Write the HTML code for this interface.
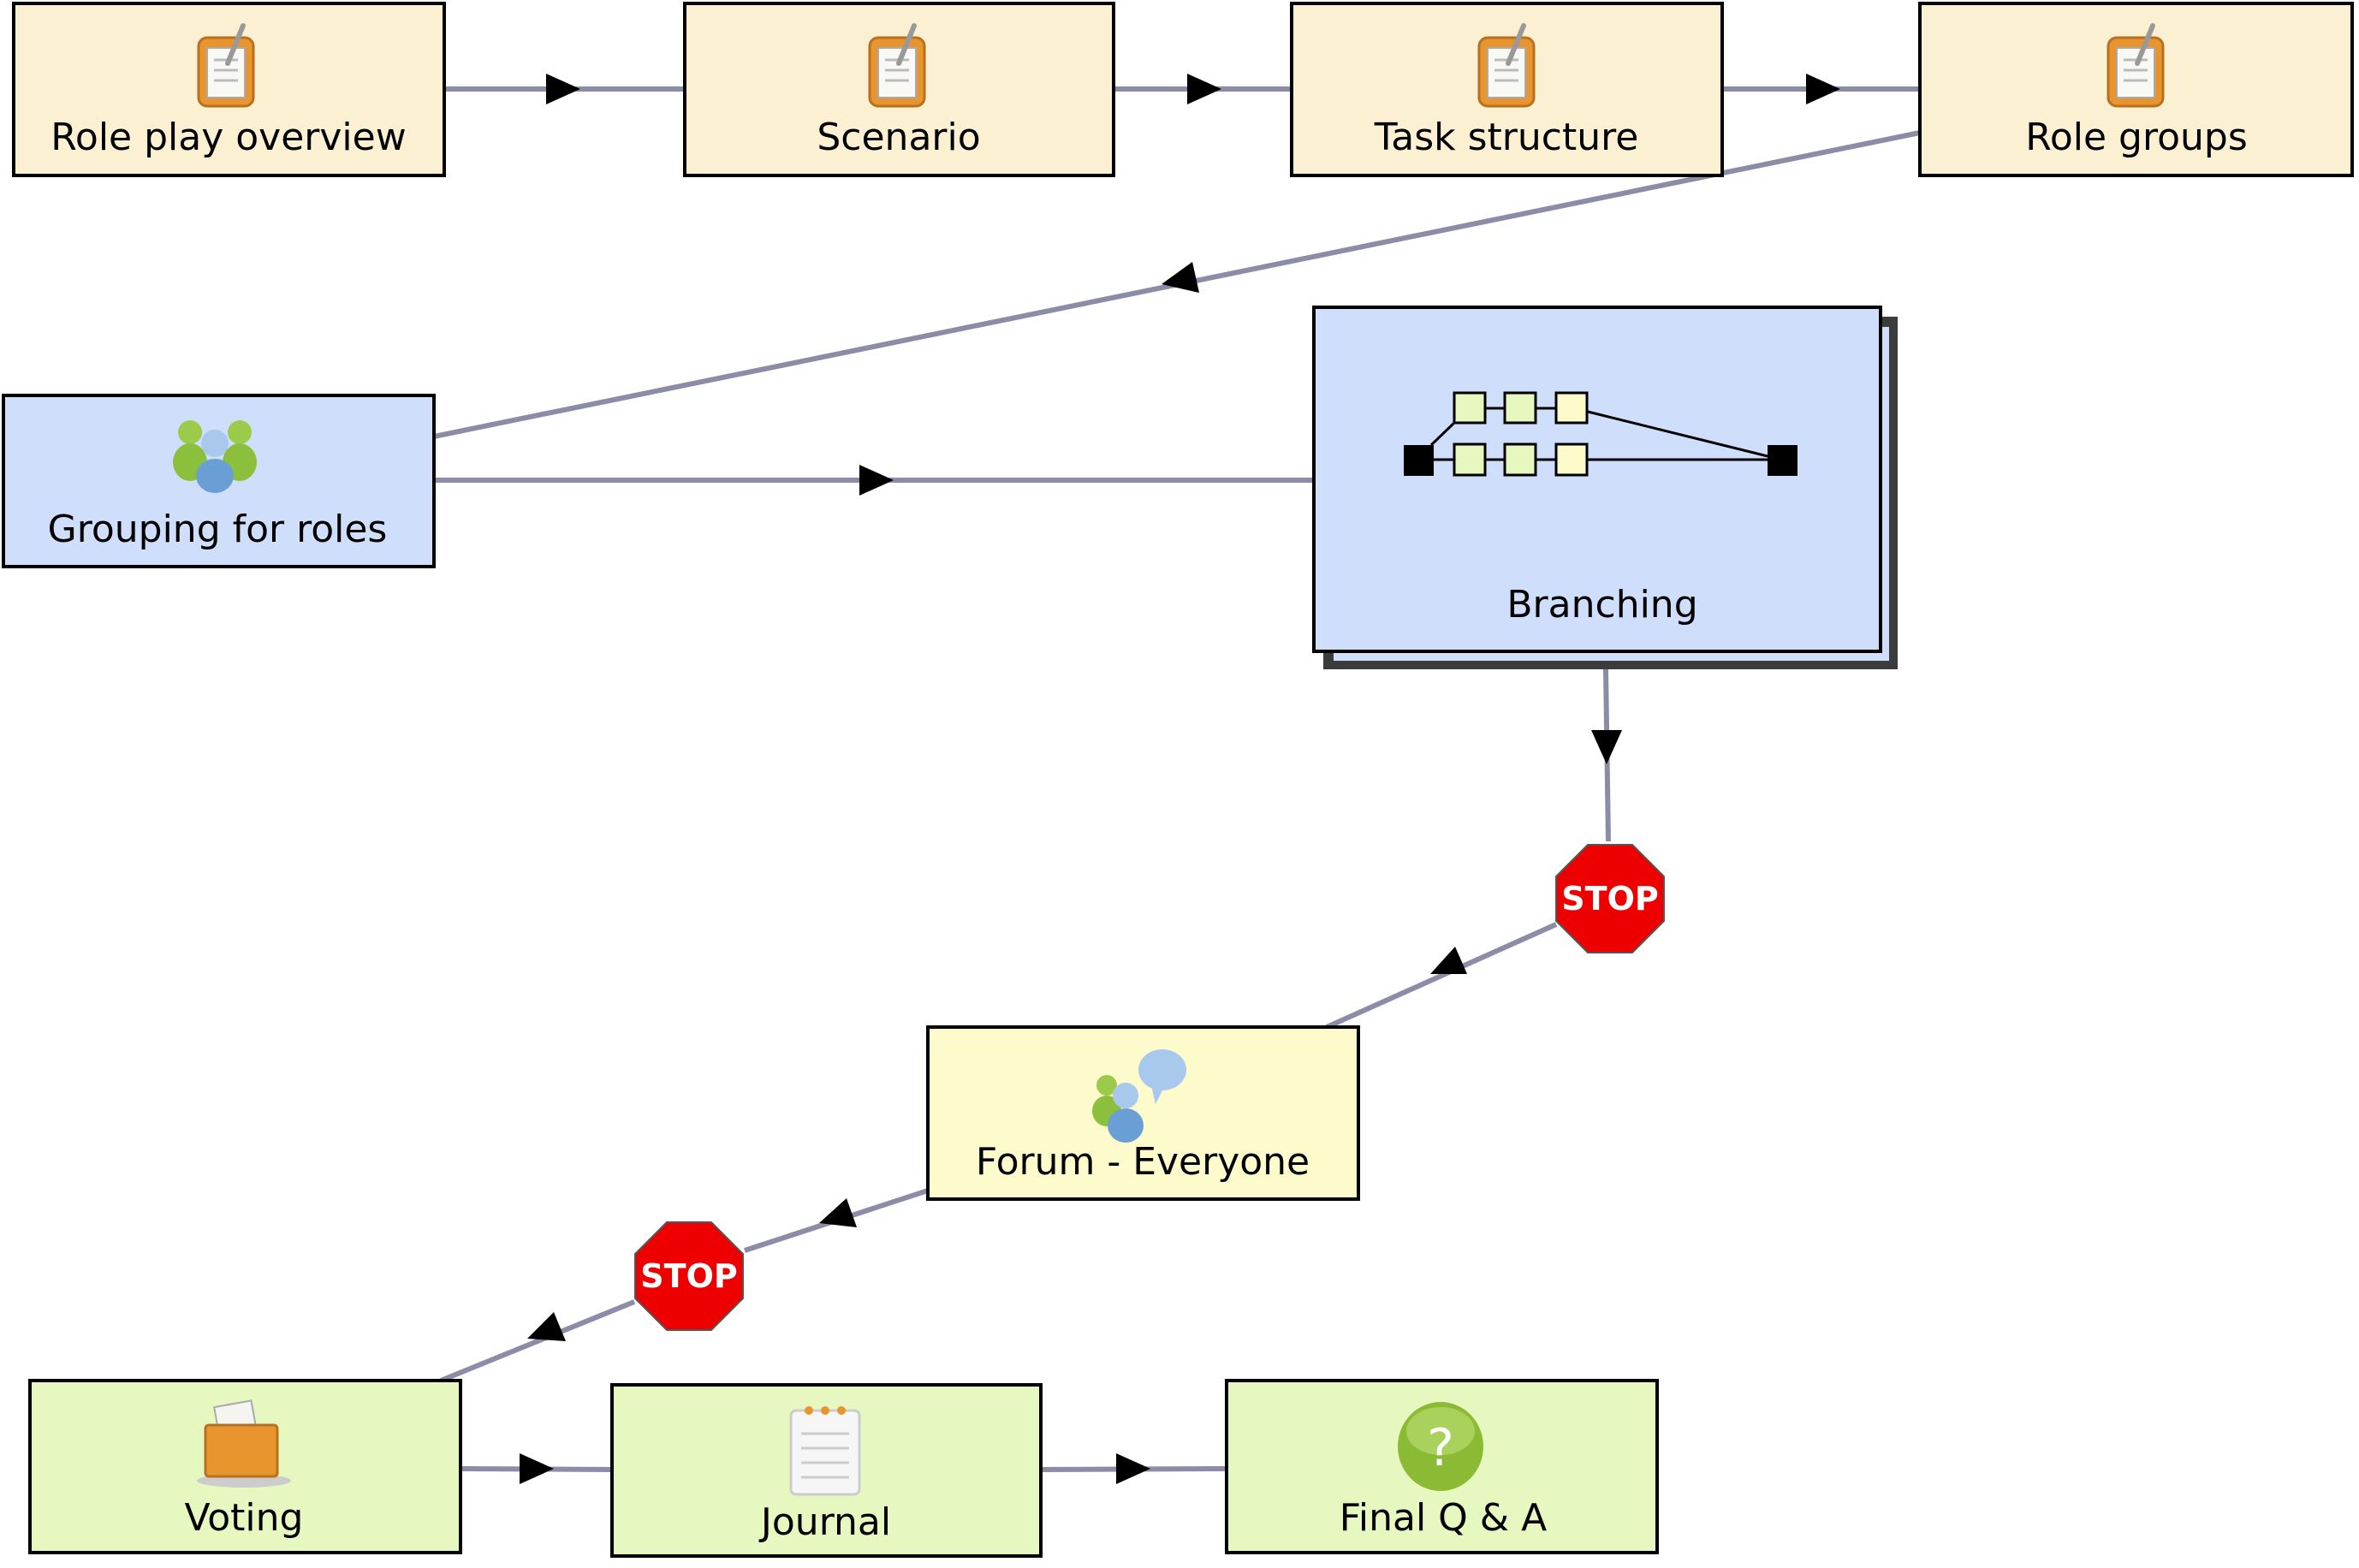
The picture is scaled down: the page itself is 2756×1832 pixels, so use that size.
<!DOCTYPE html>
<html><head><meta charset="utf-8"><style>
html,body{margin:0;padding:0;background:#fff;width:2756px;height:1832px;overflow:hidden}
text{font-family:"DejaVu Sans","Liberation Sans",sans-serif;font-size:44px;fill:#000}
</style></head><body>
<svg width="2756" height="1832" viewBox="0 0 2756 1832" xmlns="http://www.w3.org/2000/svg">
<defs>
<g id="clip">
<rect x="-32" y="-38" width="64" height="80" rx="10" fill="#e8952f" stroke="#b8701e" stroke-width="3"/>
<rect x="-22" y="-26" width="44" height="58" fill="#f8f8f4" stroke="#aaa" stroke-width="2"/>
<line x1="-14" y1="-12" x2="14" y2="-12" stroke="#bbb" stroke-width="3"/>
<line x1="-14" y1="0" x2="14" y2="0" stroke="#bbb" stroke-width="3"/>
<line x1="-14" y1="12" x2="14" y2="12" stroke="#bbb" stroke-width="3"/>
<line x1="2" y1="-8" x2="20" y2="-52" stroke="#999" stroke-width="6" stroke-linecap="round"/>
</g>
</defs>
<g stroke="#8c8ca8" stroke-width="6" fill="none">
<line x1="519" y1="104" x2="800" y2="104"/>
<line x1="1301" y1="104" x2="1509" y2="104"/>
<line x1="2012" y1="104" x2="2243" y2="104"/>
<line x1="2243" y1="155" x2="507" y2="510"/>
<line x1="507" y1="561" x2="1543" y2="561"/>
<line x1="1876" y1="782" x2="1879" y2="983"/>
<line x1="1818" y1="1080" x2="1550" y2="1200"/>
<line x1="1084" y1="1391" x2="870" y2="1461"/>
<line x1="741" y1="1521" x2="515" y2="1613"/>
<line x1="538" y1="1716" x2="715" y2="1717"/>
<line x1="1216" y1="1717" x2="1433" y2="1716"/>
</g>
<g fill="#000">
<polygon points="678,104 638,86 638,122"/>
<polygon points="1427,104 1387,86 1387,122"/>
<polygon points="2150,104 2110,86 2110,122"/>
<polygon points="1357,332 1401,342 1393,306"/>
<polygon points="1044,561 1004,543 1004,579"/>
<polygon points="1877,893 1859,853 1895,853"/>
<polygon points="1671,1138 1714,1138 1700,1106"/>
<polygon points="957,1429 1001,1434 989,1400"/>
<polygon points="616,1564 661,1567 647,1533"/>
<polygon points="647,1716 607,1698 607,1734"/>
<polygon points="1344,1716 1304,1698 1304,1734"/>
</g>
<!-- top row -->
<g stroke="#000" stroke-width="4">
<rect x="16" y="4" width="503" height="201" fill="#fcf0d2"/>
<rect x="800" y="4" width="501" height="201" fill="#fcf0d2"/>
<rect x="1509" y="4" width="503" height="201" fill="#fcf0d2"/>
<rect x="2243" y="4" width="505" height="201" fill="#fcf0d2"/>
</g>
<use href="#clip" x="264" y="82"/>
<use href="#clip" x="1048" y="82"/>
<use href="#clip" x="1760" y="82"/>
<use href="#clip" x="2495" y="82"/>
<text x="267" y="175" text-anchor="middle">Role play overview</text>
<text x="1050" y="175" text-anchor="middle">Scenario</text>
<text x="1760" y="175" text-anchor="middle">Task structure</text>
<text x="2496" y="175" text-anchor="middle">Role groups</text>
<!-- grouping -->
<rect x="4" y="462" width="503" height="200" fill="#cfdffb" stroke="#000" stroke-width="4"/>
<g>
<circle cx="222" cy="505" r="14" fill="#9ccb4c"/><ellipse cx="222" cy="540" rx="20" ry="22" fill="#8cc03c"/>
<circle cx="280" cy="505" r="14" fill="#9ccb4c"/><ellipse cx="280" cy="540" rx="20" ry="22" fill="#8cc03c"/>
<circle cx="251" cy="518" r="16" fill="#a8c8ec"/><ellipse cx="251" cy="556" rx="22" ry="20" fill="#6a9fd6"/>
</g>
<text x="254" y="633" text-anchor="middle">Grouping for roles</text>
<!-- branching -->
<rect x="1546" y="370" width="671" height="412" fill="#3c3c3c"/>
<rect x="1558" y="382" width="649" height="390" fill="#cfdffb"/>
<rect x="1535" y="359" width="662" height="402" fill="#cfdffb" stroke="#000" stroke-width="4"/>
<g stroke="#000" stroke-width="3">
<line x1="1672" y1="520" x2="1699" y2="494"/>
<line x1="1675" y1="537" x2="2065" y2="537"/>
<line x1="1735" y1="477" x2="1818" y2="477"/>
<line x1="1855" y1="481" x2="2065" y2="533"/>
<rect x="1699" y="459" width="36" height="35" fill="#e6f7c0"/>
<rect x="1758" y="459" width="36" height="35" fill="#e6f7c0"/>
<rect x="1818" y="459" width="36" height="35" fill="#fdfacc"/>
<rect x="1699" y="519" width="36" height="36" fill="#e6f7c0"/>
<rect x="1758" y="519" width="36" height="36" fill="#e6f7c0"/>
<rect x="1818" y="519" width="36" height="36" fill="#fdfacc"/>
</g>
<rect x="1640" y="520" width="35" height="36" fill="#000"/>
<rect x="2065" y="520" width="35" height="36" fill="#000"/>
<text x="1872" y="721" text-anchor="middle">Branching</text>
<!-- stops -->
<g transform="translate(1881,1050)">
<polygon points="63,26 26,63 -26,63 -63,26 -63,-26 -26,-63 26,-63 63,-26" fill="#ee0000" stroke="#555" stroke-width="2"/>
<text x="0" y="13" text-anchor="middle" style="font-size:38px;font-weight:bold;fill:#fff">STOP</text>
</g>
<g transform="translate(805,1491)">
<polygon points="63,26 26,63 -26,63 -63,26 -63,-26 -26,-63 26,-63 63,-26" fill="#ee0000" stroke="#555" stroke-width="2"/>
<text x="0" y="13" text-anchor="middle" style="font-size:38px;font-weight:bold;fill:#fff">STOP</text>
</g>
<!-- forum -->
<rect x="1084" y="1200" width="503" height="201" fill="#fdfacc" stroke="#000" stroke-width="4"/>
<g>
<ellipse cx="1358" cy="1250" rx="28" ry="24" fill="#a8c8ec"/>
<polygon points="1345,1268 1350,1290 1360,1270" fill="#a8c8ec"/>
<circle cx="1293" cy="1268" r="12" fill="#9ccb4c"/><ellipse cx="1293" cy="1298" rx="17" ry="18" fill="#8cc03c"/>
<circle cx="1315" cy="1280" r="15" fill="#a8c8ec"/><ellipse cx="1315" cy="1315" rx="21" ry="20" fill="#6a9fd6"/>
</g>
<text x="1335" y="1372" text-anchor="middle">Forum - Everyone</text>
<!-- bottom row -->
<g stroke="#000" stroke-width="4">
<rect x="35" y="1613" width="503" height="201" fill="#e6f7c0"/>
<rect x="715" y="1618" width="501" height="200" fill="#e6f7c0"/>
<rect x="1433" y="1613" width="503" height="201" fill="#e6f7c0"/>
</g>
<g>
<ellipse cx="285" cy="1730" rx="55" ry="8" fill="#ccc"/>
<rect x="253" y="1640" width="44" height="36" fill="#f4f4f0" stroke="#aaa" stroke-width="2" transform="rotate(-10 275 1658)"/>
<rect x="240" y="1665" width="84" height="60" rx="4" fill="#e8952f" stroke="#b8701e" stroke-width="3"/>
</g>
<text x="285" y="1788" text-anchor="middle">Voting</text>
<g>
<rect x="924" y="1648" width="80" height="98" rx="6" fill="#f6f6f6" stroke="#ccc" stroke-width="3"/>
<circle cx="945" cy="1648" r="5" fill="#e8952f"/><circle cx="964" cy="1648" r="5" fill="#e8952f"/><circle cx="983" cy="1648" r="5" fill="#e8952f"/>
<g stroke="#ccc" stroke-width="3"><line x1="936" y1="1675" x2="992" y2="1675"/><line x1="936" y1="1692" x2="992" y2="1692"/><line x1="936" y1="1709" x2="992" y2="1709"/><line x1="936" y1="1726" x2="992" y2="1726"/></g>
</g>
<text x="965" y="1793" text-anchor="middle">Journal</text>
<g>
<ellipse cx="1683" cy="1690" rx="50" ry="52" fill="#8bbb35"/>
<ellipse cx="1683" cy="1672" rx="40" ry="28" fill="#b6dc6e" opacity="0.7"/>
<text x="1683" y="1712" text-anchor="middle" style="font-size:60px;fill:#fff">?</text>
</g>
<text x="1686" y="1788" text-anchor="middle">Final Q &amp; A</text>
</svg>
</body></html>
